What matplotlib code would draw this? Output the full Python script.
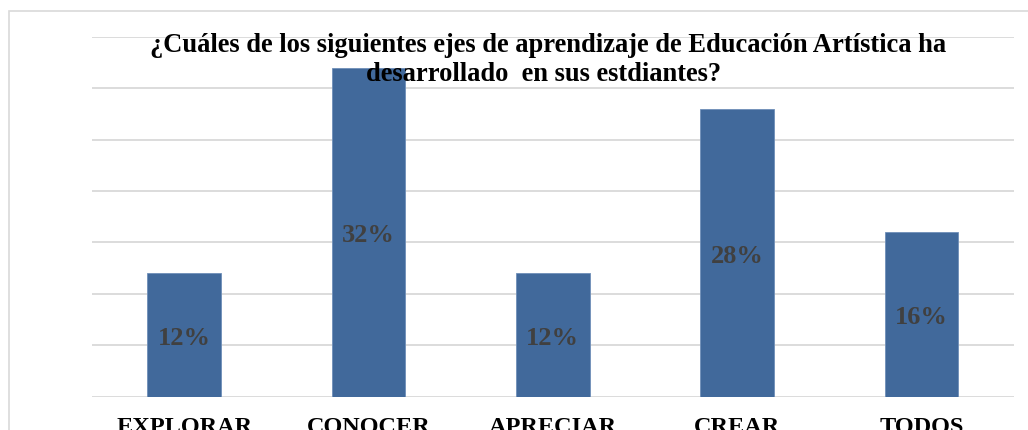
import matplotlib
matplotlib.use("Agg")
import matplotlib.pyplot as plt
from matplotlib.patches import Rectangle

# datos del gráfico
categorias = ["EXPLORAR", "CONOCER", "APRECIAR", "CREAR", "TODOS"]
porcentajes = [12, 32, 12, 28, 16]
etiquetas = ["12%", "32%", "12%", "28%", "16%"]
titulo_l1 = "¿Cuáles de los siguientes ejes de aprendizaje de Educación Artística ha"
titulo_l2 = "desarrollado  en sus estdiantes?"

plt.rcParams["font.family"] = ["Liberation Serif", "DejaVu Serif"]

fig = plt.figure(figsize=(10.28, 4.31), dpi=100)
ax = fig.add_axes([0.0895, 0.0773, 0.8966, 0.8353])

# marco del área del gráfico (se sale por la derecha y por abajo)
fig.patches.append(Rectangle((9 / 1028, -0.2), 1.2, (431 - 12) / 431 + 0.2,
                             transform=fig.transFigure, fill=False,
                             edgecolor="#d9d9d9", linewidth=1.2))

x = range(len(categorias))
barras = ax.bar(x, porcentajes, width=0.40, color="#41699b",
                edgecolor="#6f8fb8", linewidth=0.6, zorder=2)

for xi, v, txt in zip(x, porcentajes, etiquetas):
    ax.text(xi, v / 2, txt, ha="center", va="center_baseline", fontsize=19,
            fontweight="bold", color="#404040", zorder=3)

ax.set_xlim(-0.5, 4.5)
ax.set_ylim(0, 35)
ax.set_yticks(range(0, 36, 5))
ax.yaxis.grid(True, color="#d9d9d9", linewidth=1.3, zorder=0)
ax.tick_params(axis="y", left=False, labelleft=False)
ax.tick_params(axis="x", length=0, pad=14)
ax.set_xticks(list(x))
ax.set_xticklabels(categorias, fontsize=17.5, fontweight="bold", color="black")
for s in ax.spines.values():
    s.set_visible(False)
ax.set_facecolor("none")

fig.text(548 / 1028, (431 - 51.7) / 431, titulo_l1, ha="center", va="baseline",
         fontsize=19.1, fontweight="bold", color="black", zorder=5)
fig.text(544 / 1028, (431 - 81) / 431, titulo_l2, ha="center", va="baseline",
         fontsize=19.1, fontweight="bold", color="black", zorder=5)

fig.savefig("out.png", dpi=100)
